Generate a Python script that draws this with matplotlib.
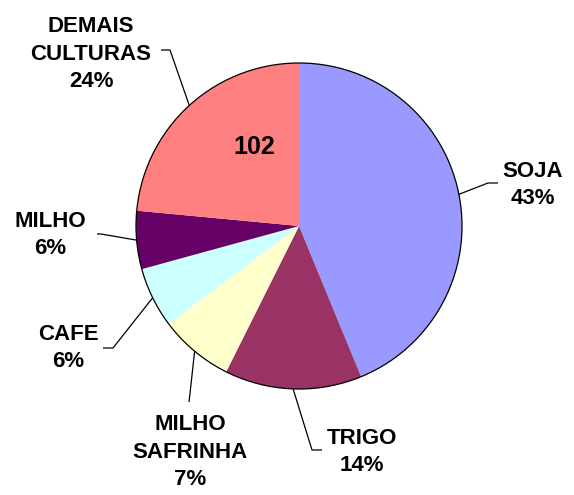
import numpy as np
import matplotlib
matplotlib.use("Agg")
import matplotlib.pyplot as plt
from matplotlib.patches import Circle

# data
crops = ["SOJA", "TRIGO", "MILHO\nSAFRINHA", "CAFE", "MILHO", "DEMAIS\nCULTURAS"]
values = [190, 59, 32, 26, 25, 102]
pct_labels = ["43%", "14%", "7%", "6%", "6%", "24%"]
colors = ["#9999FF", "#993366", "#FFFFCC", "#CCFFFF", "#660066", "#FF8080"]

W, H = 574, 495
cx, cy, r = 299, H - 226, 163

# label layout (pixel coords, y measured from the top)
label_pos = [(533, 185), (362, 452), (190, 452), (68, 348), (50, 235), (91, 54)]
leader_pts = [
    [(498, 183), (488, 183)],
    [(322, 450), (312, 450)],
    [(189, 402), (190.5, 389)],
    [(103, 348), (113, 348)],
    [(97, 234), (101, 234)],
    [(161, 50), (170, 50)],
]

plt.rcParams['font.family'] = ['Liberation Sans', 'DejaVu Sans']

fig = plt.figure(figsize=(W / 100, H / 100), dpi=100)
ax = fig.add_axes([0, 0, 1, 1])

wedges, _ = ax.pie(values, colors=colors, startangle=90, counterclock=False,
                   center=(cx, cy), radius=r, wedgeprops=dict(linewidth=0))
ax.add_patch(Circle((cx, cy), r, fill=False, edgecolor='black', lw=0.9))

for w, name, pct, (lx, ly), pts in zip(wedges, crops, pct_labels, label_pos, leader_pts):
    mid = np.deg2rad((w.theta1 + w.theta2) / 2)
    ex, ey = cx + r * np.cos(mid), cy + r * np.sin(mid)
    xs = [p[0] for p in pts] + [ex]
    ys = [H - p[1] for p in pts] + [ey]
    ax.plot(xs, ys, color='black', lw=0.9, solid_capstyle='butt')
    ax.text(lx, H - ly, name + "\n" + pct, ha='center', va='center',
            multialignment='center', fontsize=16, fontweight='bold',
            linespacing=1.4)

ax.text(254, H - 147, str(values[-1]), ha='center', va='center',
        fontsize=18, fontweight='bold')

ax.set_xlim(0, W)
ax.set_ylim(0, H)
ax.set_aspect('auto')
ax.axis('off')

fig.savefig("out.png", dpi=100)
